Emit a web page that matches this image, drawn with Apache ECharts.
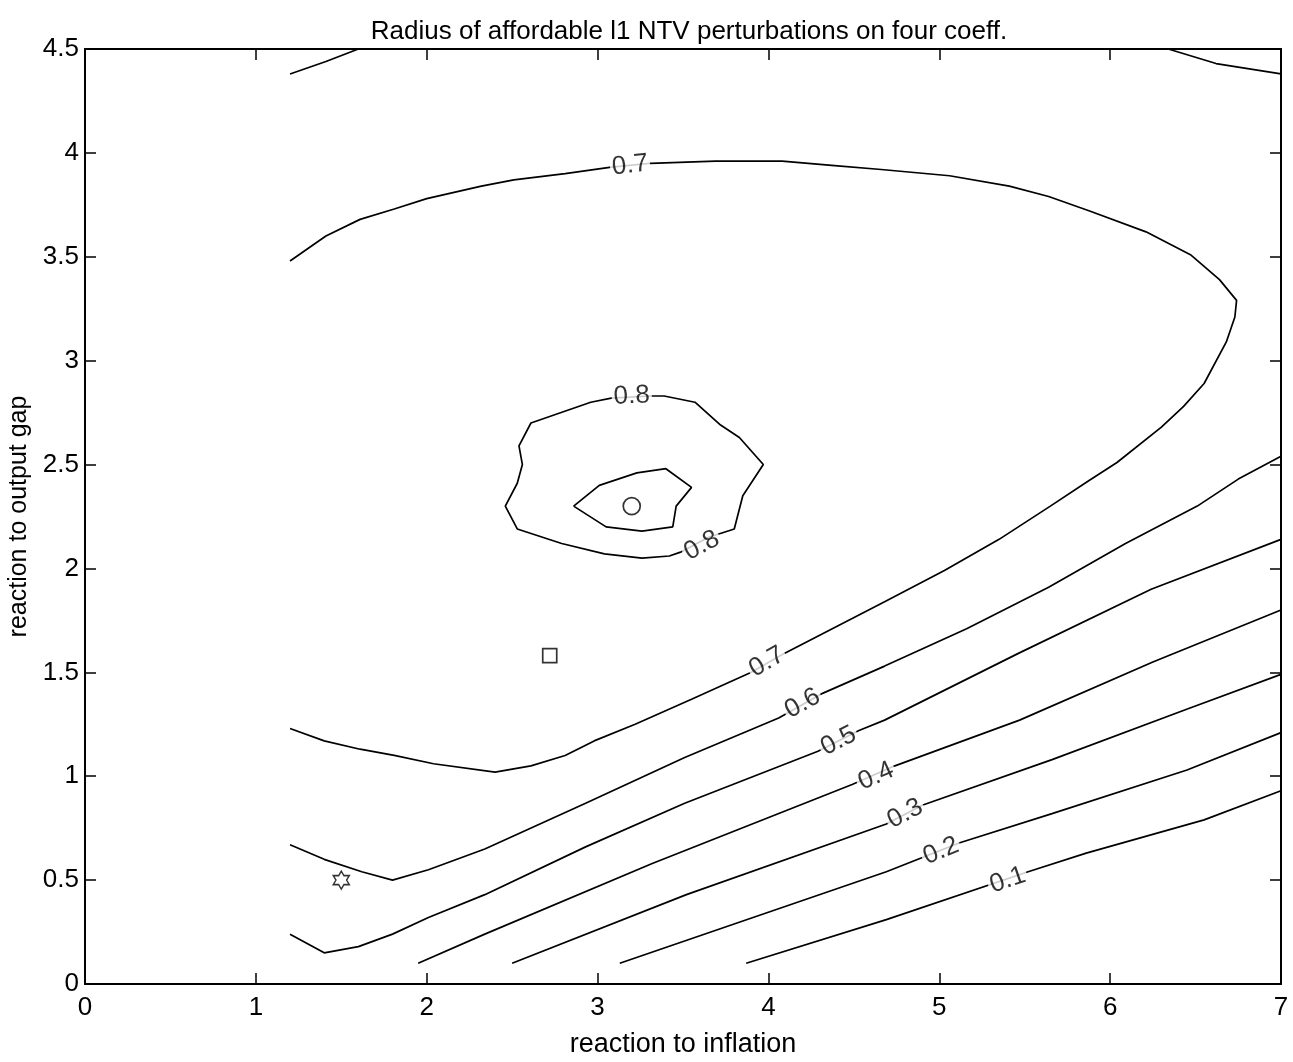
<!DOCTYPE html>
<html>
<head>
<meta charset="utf-8">
<script src="https://cdn.jsdelivr.net/npm/echarts@6/dist/echarts.min.js"></script>
<style>
html,body{margin:0;padding:0;background:#fff;}
#c{width:1293px;height:1062px;}
</style>
</head>
<body>
<div id="c"></div>
<script>
// ---- data (x = reaction to inflation, y = reaction to output gap) ----
const xTicks = [0, 7, 1];      // min, max, step
const yTicks = [0, 4.5, 0.5];
const titleText = 'Radius of affordable l1 NTV perturbations on four coeff.';
const xName = 'reaction to inflation';
const yName = 'reaction to output gap';

// contour level 0.8 (outer loop) and the inner loop around the optimum
const c08 = [[3.31,2.83],[3.39,2.83],[3.57,2.80],[3.72,2.69],[3.83,2.63],[3.97,2.50],[3.85,2.35],[3.80,2.19],[3.65,2.15],[3.49,2.08],[3.42,2.06],[3.26,2.05],[3.04,2.07],[2.79,2.12],[2.53,2.19],[2.46,2.30],[2.53,2.41],[2.56,2.50],[2.54,2.59],[2.61,2.70],[2.96,2.80],[3.08,2.82],[3.31,2.83]];
const c08inner = [[2.86,2.30],[3.01,2.40],[3.23,2.46],[3.40,2.48],[3.55,2.39],[3.46,2.30],[3.44,2.20],[3.26,2.18],[3.05,2.20],[2.86,2.30]];
// contour level 0.7
const c07 = [[1.2,3.48],[1.41,3.60],[1.61,3.68],[1.81,3.73],[2.00,3.78],[2.32,3.84],[2.51,3.87],[2.81,3.90],[3.07,3.93],[3.31,3.95],[3.69,3.96],[4.08,3.96],[4.37,3.94],[4.66,3.92],[5.06,3.89],[5.41,3.84],[5.64,3.79],[5.88,3.72],[6.21,3.62],[6.47,3.51],[6.64,3.39],[6.74,3.29],[6.73,3.21],[6.68,3.09],[6.55,2.89],[6.43,2.78],[6.30,2.68],[6.04,2.51],[5.87,2.42],[5.65,2.30],[5.35,2.14],[5.03,1.99],[4.68,1.84],[4.09,1.59],[3.90,1.50],[3.55,1.37],[3.22,1.25],[2.98,1.17],[2.81,1.10],[2.61,1.05],[2.40,1.02],[2.04,1.06],[1.81,1.10],[1.61,1.13],[1.40,1.17],[1.2,1.23]];
// contour level 0.6 (main branch and the two corner pieces at the top)
const c06 = [[1.2,0.67],[1.40,0.60],[1.62,0.54],[1.80,0.50],[2.01,0.55],[2.34,0.65],[2.93,0.87],[3.51,1.09],[4.06,1.28],[4.32,1.40],[4.68,1.53],[5.16,1.71],[5.64,1.91],[6.09,2.12],[6.51,2.30],[6.75,2.43],[7.0,2.54]];
const c06topLeft = [[1.2,4.38],[1.41,4.44],[1.6,4.5]];
const c06topRight = [[6.34,4.5],[6.62,4.43],[7.0,4.38]];
// contour levels 0.5 .. 0.1
const c05 = [[1.2,0.24],[1.40,0.15],[1.60,0.18],[1.80,0.24],[2.01,0.32],[2.34,0.43],[2.93,0.66],[3.51,0.87],[4.29,1.12],[4.53,1.22],[4.68,1.27],[5.46,1.59],[6.24,1.90],[7.0,2.14]];
const c04 = [[1.95,0.10],[2.34,0.24],[3.32,0.58],[4.49,0.96],[4.74,1.05],[5.47,1.27],[6.25,1.55],[7.0,1.80]];
const c03 = [[2.50,0.10],[3.52,0.43],[4.69,0.77],[4.90,0.86],[5.66,1.08],[6.44,1.32],[7.0,1.49]];
const c02 = [[3.13,0.10],[3.91,0.32],[4.69,0.54],[5.12,0.68],[5.66,0.82],[6.45,1.03],[7.0,1.21]];
const c01 = [[3.87,0.10],[4.69,0.31],[5.52,0.54],[5.86,0.63],[6.55,0.79],[7.0,0.93]];

// inline contour labels: text and position on the line
const labelTexts = ['0.7','0.8','0.8','0.7','0.6','0.5','0.4','0.3','0.2','0.1'];
const labelPoints = [[3.19,3.94],[3.20,2.83],[3.61,2.11],[3.99,1.55],[4.20,1.35],[4.41,1.17],[4.63,1.00],[4.80,0.82],[5.01,0.64],[5.40,0.50]];

// markers
const circlePoint = [[3.2,2.3]];
const squarePoint = [[2.72,1.58]];
const starPoint = [[1.5,0.5]];

// ---- chart ----
const FONT = '"Liberation Sans", Arial, Helvetica, sans-serif';
const curves = {
  '0.8': [c08, c08inner], '0.7': [c07], '0.6': [c06, c06topLeft, c06topRight],
  '0.5': [c05], '0.4': [c04], '0.3': [c03], '0.2': [c02], '0.1': [c01]
};
const allCurves = [
  ['0.8', c08], ['0.8 inner', c08inner], ['0.7', c07], ['0.6', c06], ['0.6 tl', c06topLeft],
  ['0.6 tr', c06topRight], ['0.5', c05], ['0.4', c04], ['0.3', c03], ['0.2', c02], ['0.1', c01]
];

const chart = echarts.init(document.getElementById('c'), null, {renderer: 'canvas'});

function axisCommon() {
  return {
    type: 'value',
    axisLine: {show: true, onZero: false, lineStyle: {color: '#000', width: 2}},
    axisTick: {show: true, inside: true, length: 11, lineStyle: {color: '#000', width: 1.5}},
    splitLine: {show: false},
    axisLabel: {color: '#000', fontSize: 26, fontFamily: FONT}
  };
}

const lineSeries = allCurves.map(([name, data]) => ({
  name: name, type: 'line', data: data, xAxisIndex: 0, yAxisIndex: 0,
  showSymbol: false, symbol: 'none', smooth: false, silent: true,
  lineStyle: {color: '#000', width: 1.7}, z: 2
}));

const STAR = 'path://M0,-10 L2.887,-5 L8.66,-5 L5.774,0 L8.66,5 L2.887,5 L0,10 L-2.887,5 L-8.66,5 L-5.774,0 L-8.66,-5 L-2.887,-5 Z';

function labelSeries(angles) {
  return {
    name: 'labels', type: 'scatter', xAxisIndex: 0, yAxisIndex: 0, silent: true,
    symbolSize: 1, itemStyle: {color: 'rgba(0,0,0,0)'}, z: 5,
    data: labelPoints.map((p, i) => ({
      value: p,
      label: {
        show: true, position: 'inside', formatter: labelTexts[i],
        rotate: angles ? angles[i] : 0,
        color: '#000', fontSize: 26, fontFamily: FONT,
        backgroundColor: '#fff', padding: [0, 2]
      }
    }))
  };
}

const option = {
  animation: false,
  backgroundColor: '#fff',
  title: {
    text: titleText, left: 684, top: 14, textAlign: 'center',
    textStyle: {color: '#000', fontSize: 26, fontWeight: 'normal', fontFamily: FONT}
  },
  grid: {left: 85, right: 12, top: 49, bottom: 78, containLabel: false, outerBoundsMode: 'none'},
  xAxis: [
    Object.assign(axisCommon(), {
      position: 'bottom', min: xTicks[0], max: xTicks[1], interval: xTicks[2],
      name: xName, nameLocation: 'middle', nameGap: 47,
      nameTextStyle: {color: '#000', fontSize: 27, fontFamily: FONT},
      axisLabel: {color: '#000', fontSize: 26, fontFamily: FONT, margin: 11}
    }),
    Object.assign(axisCommon(), {
      position: 'top', min: xTicks[0], max: xTicks[1], interval: xTicks[2],
      axisLabel: {show: false}
    })
  ],
  yAxis: [
    Object.assign(axisCommon(), {
      position: 'left', min: yTicks[0], max: yTicks[1], interval: yTicks[2],
      name: yName, nameLocation: 'middle', nameGap: 50,
      nameTextStyle: {color: '#000', fontSize: 25, fontFamily: FONT},
      axisLabel: {color: '#000', fontSize: 26, fontFamily: FONT, margin: 6}
    }),
    Object.assign(axisCommon(), {
      position: 'right', min: yTicks[0], max: yTicks[1], interval: yTicks[2],
      axisLabel: {show: false}
    })
  ],
  series: lineSeries.concat([
    labelSeries(null),
    {name: 'circle', type: 'scatter', data: circlePoint, symbol: 'circle', symbolSize: 17,
     itemStyle: {color: '#fff', borderColor: '#000', borderWidth: 1.7}, z: 6, silent: true},
    {name: 'square', type: 'scatter', data: squarePoint, symbol: 'rect', symbolSize: 14,
     itemStyle: {color: '#fff', borderColor: '#000', borderWidth: 1.7}, z: 6, silent: true},
    {name: 'star', type: 'scatter', data: starPoint, symbol: STAR, symbolSize: [16, 18],
     itemStyle: {color: '#fff', borderColor: '#000', borderWidth: 1.5}, z: 6, silent: true}
  ])
};
chart.setOption(option);

// rotate each inline label along its contour
function toPx(p) { return chart.convertToPixel({xAxisIndex: 0, yAxisIndex: 0}, p); }
const angles = labelPoints.map((pt, i) => {
  const p = toPx(pt);
  let best = null, bd = Infinity;
  curves[labelTexts[i]].forEach(curve => {
    for (let k = 0; k < curve.length - 1; k++) {
      const a = toPx(curve[k]), b = toPx(curve[k + 1]);
      const vx = b[0] - a[0], vy = b[1] - a[1];
      const L = vx * vx + vy * vy || 1;
      let t = ((p[0] - a[0]) * vx + (p[1] - a[1]) * vy) / L;
      t = Math.max(0, Math.min(1, t));
      const dx = a[0] + t * vx - p[0], dy = a[1] + t * vy - p[1];
      const d = dx * dx + dy * dy;
      if (d < bd) { bd = d; best = [vx, vy]; }
    }
  });
  let ang = -Math.atan2(best[1], best[0]) * 180 / Math.PI;
  if (ang > 90) ang -= 180;
  if (ang < -90) ang += 180;
  return Math.round(ang);
});
const newSeries = option.series.slice();
newSeries[lineSeries.length] = labelSeries(angles);
chart.setOption({series: newSeries});
</script>
</body>
</html>
